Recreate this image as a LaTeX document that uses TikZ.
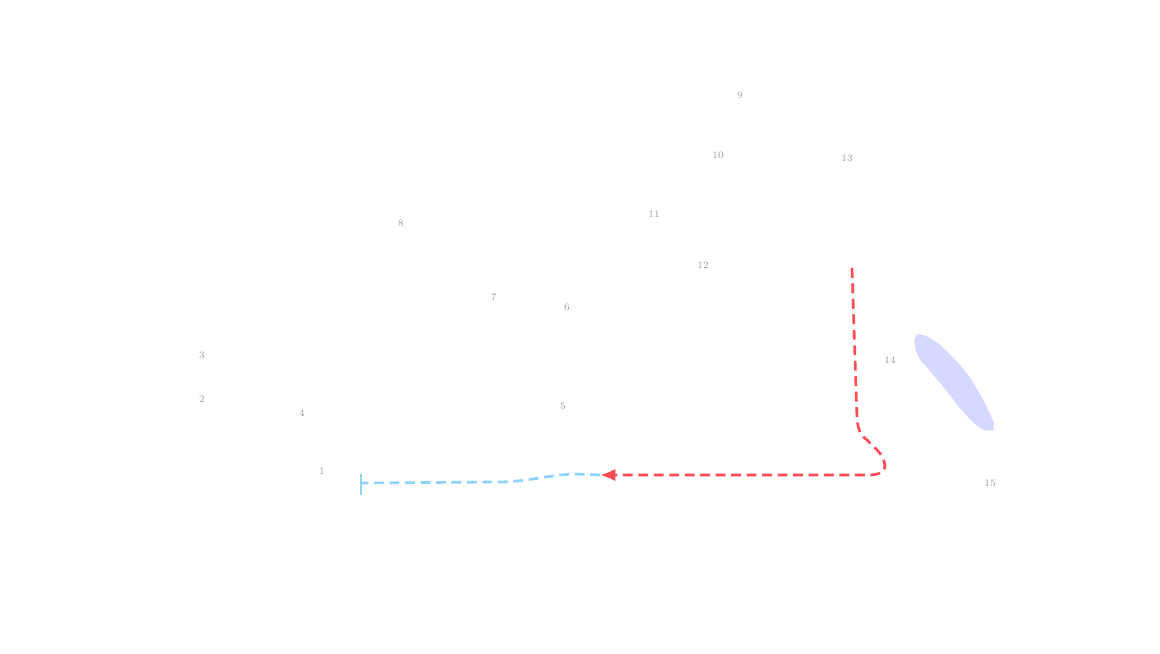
\documentclass[tikz,border=0pt]{standalone}
\usepackage{tikz}
\usetikzlibrary{calc,positioning,arrows.meta}
\definecolor{redline}{HTML}{FF4B55}
\definecolor{blueline}{HTML}{8ED2FF}
\definecolor{blobfill}{HTML}{D5D9FF}
\tikzset{num/.style={font=\scriptsize,text=black!40,inner sep=1pt}}
\begin{document}
\begin{tikzpicture}[x=0.025cm,y=-0.025cm]
\useasboundingbox (0,0) rectangle (1160,653);
\foreach \n/\x/\y in {1/322/471,2/202/399,3/202/355,4/302/413,5/563/406,6/567/307,7/494/297,8/401/223,9/740/95,10/718/155,13/847/158,11/654/214,12/703/265,14/890/360,15/990/483}
	\node [num] (n\n) at (\x,\y) {\n};
\fill [blobfill,rounded corners=5pt] (913,336) -- (921,333) -- (937,342) -- (955,359) -- (970,377) -- (984,401) -- (996,427) -- (990,433) -- (978,427) -- (962,411) -- (946,390) -- (929,370) -- (917,356) -- cycle;
\coordinate (rs) at (852,268);
\coordinate (meet) at (600,475);
\coordinate (bend) at (361,483);
\draw [redline,line width=1.9pt,dash pattern=on 7pt off 4pt,-{Latex[length=11pt,width=9pt]}] (rs) -- (857,418) .. controls (858,432) and (862,436) .. (867,440) -- (879,452) .. controls (889,466) and (887,475) .. (868,475) -- (meet);
\draw [blueline,line width=1.9pt,dash pattern=on 7pt off 4pt] (meet) -- (575,474) .. controls (545,475) and (530,482) .. (495,482) -- (bend);
\draw [blueline,line width=1.5pt] ($(bend)+(0,-9)$) -- ($(bend)+(0,12)$);
\end{tikzpicture}
\end{document}
